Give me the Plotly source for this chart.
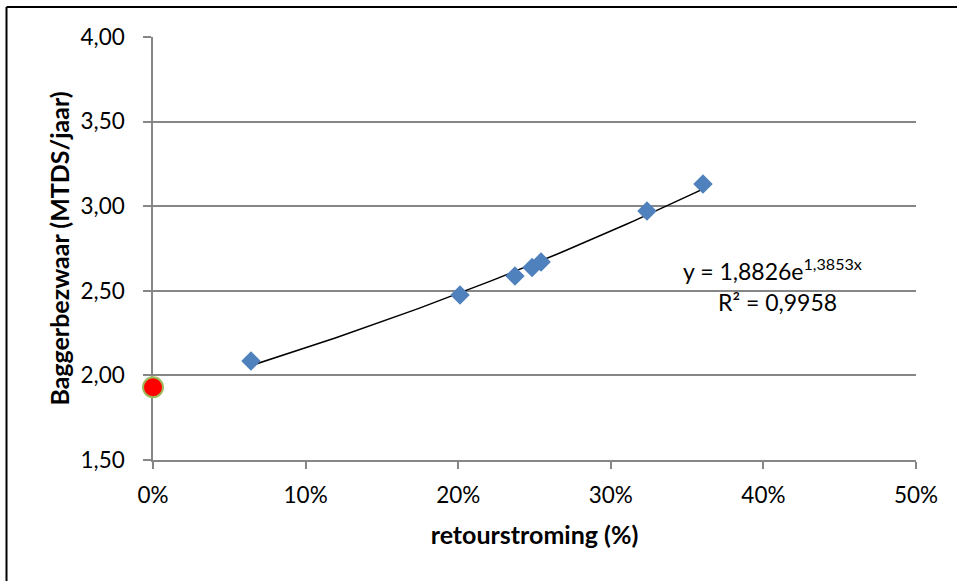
import numpy as np
import plotly.graph_objects as go

# Measured points: return flow (fraction) vs dredging load (MTDS/year)
retour = [0.0642, 0.2012, 0.2372, 0.2484, 0.2543, 0.3237, 0.3604]
bagger = [2.085, 2.475, 2.587, 2.637, 2.670, 2.972, 3.131]

# Reference situation without return flow
ref_x = [0.0]
ref_y = [1.93]

# Exponential trend: y = a * exp(b * x)
trend_a = 1.8826
trend_b = 1.3853
trend_r2 = 0.9958

x_ticks = [0.0, 0.1, 0.2, 0.3, 0.4, 0.5]
y_ticks = [1.5, 2.0, 2.5, 3.0, 3.5, 4.0]

font_family = "Lato, 'Open Sans', sans-serif"
grid_col = "#868686"

tx = np.linspace(min(retour), max(retour), 60)
ty = trend_a * np.exp(trend_b * tx)

fig = go.Figure()
fig.add_trace(go.Scatter(
    x=tx, y=ty, mode="lines",
    line=dict(color="black", width=1.5),
    hoverinfo="skip", showlegend=False,
))
fig.add_trace(go.Scatter(
    x=retour, y=bagger, mode="markers",
    marker=dict(symbol="diamond", size=15, color="#4F81BD",
                line=dict(color="#4F81BD", width=0)),
    showlegend=False,
))
fig.add_trace(go.Scatter(
    x=ref_x, y=ref_y, mode="markers",
    marker=dict(symbol="circle", size=20, color="#FF0000",
                line=dict(color="#9BBB59", width=2)),
    cliponaxis=False, showlegend=False,
))

fig.add_annotation(
    x=0.406, y=2.627, xref="x", yref="y",
    text="y = 1,8826e<sup>1,3853x</sup>", showarrow=False,
    font=dict(family=font_family, size=23, color="black"),
)
fig.add_annotation(
    x=0.409, y=2.434, xref="x", yref="y",
    text=f"R² = {trend_r2:.4f}".replace(".", ","), showarrow=False,
    font=dict(family=font_family, size=23, color="black"),
)

# Outer chart frame (left and top edges fall inside the page)
frame = dict(color="black", width=2)
fig.add_shape(type="line", xref="paper", yref="paper",
              x0=-0.192, x1=-0.192, y0=-0.6, y1=1.0709, line=frame)
fig.add_shape(type="line", xref="paper", yref="paper",
              x0=-0.192, x1=1.2, y0=1.0709, y1=1.0709, line=frame)

fig.update_layout(
    width=957, height=581,
    margin=dict(l=153, r=41, t=37, b=121),
    paper_bgcolor="white", plot_bgcolor="white",
    separators=", ",
    font=dict(family=font_family, size=22, color="black"),
    xaxis=dict(
        range=[0, 0.5], tickvals=x_ticks, tickformat=".0%",
        showgrid=False, zeroline=False, layer="below traces",
        showline=True, linecolor=grid_col, linewidth=1.5,
        ticks="outside", ticklen=7, tickcolor=grid_col, tickwidth=1.5,
        tickfont=dict(size=22.5), ticklabelstandoff=7,
        title=dict(text="<b>retourstroming (%)</b>", font=dict(size=25), standoff=20),
    ),
    yaxis=dict(
        range=[1.5, 4.0], tickvals=y_ticks, tickformat=".2f",
        showgrid=True, gridcolor=grid_col, gridwidth=1.5,
        zeroline=False, layer="below traces",
        showline=True, linecolor=grid_col, linewidth=1.5,
        ticks="outside", ticklen=8, tickcolor=grid_col, tickwidth=1.5,
        tickfont=dict(size=22.5), ticklabelstandoff=14,
        title=dict(text="<b>Baggerbezwaar (MTDS/jaar)</b>", font=dict(size=25), standoff=4),
    ),
)

fig.write_html("out.html")
